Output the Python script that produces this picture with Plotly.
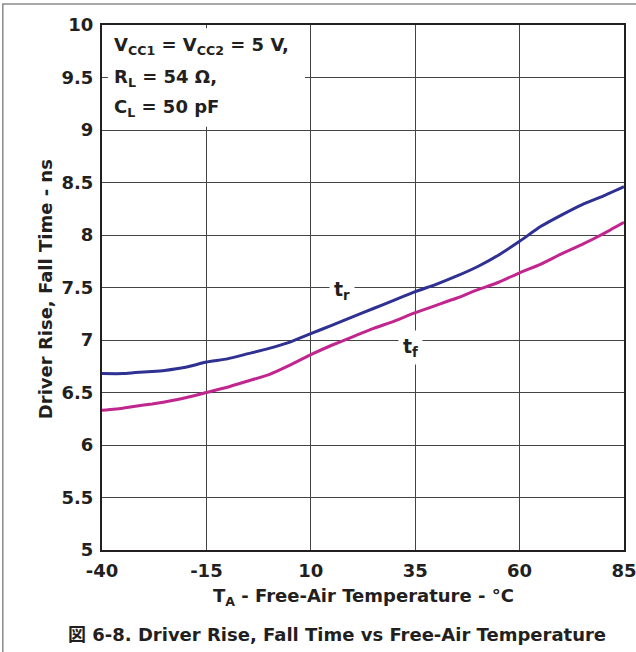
import plotly.graph_objects as go

temp = [-40, -35, -32, -28, -25, -20, -15, -10, -5, 0, 5, 10, 15, 20, 25, 30, 35, 40, 45, 50, 55, 60, 65, 70, 75, 80, 85]
rise = [6.68, 6.68, 6.69, 6.70, 6.71, 6.74, 6.79, 6.82, 6.87, 6.92, 6.98, 7.06, 7.14, 7.22, 7.30, 7.38, 7.46, 7.53, 7.61, 7.70, 7.81, 7.94, 8.08, 8.19, 8.29, 8.37, 8.46]
fall = [6.33, 6.35, 6.37, 6.39, 6.41, 6.45, 6.50, 6.55, 6.61, 6.67, 6.76, 6.86, 6.95, 7.03, 7.11, 7.18, 7.26, 7.33, 7.40, 7.48, 7.55, 7.64, 7.72, 7.82, 7.91, 8.01, 8.12]

x_ticks = [-40, -15, 10, 35, 60, 85]
y_ticks = [5, 5.5, 6, 6.5, 7, 7.5, 8, 8.5, 9, 9.5, 10]

FONT = "DejaVu Sans, Noto Sans CJK JP"
INK = "#231f20"
FS = 18

fig = go.Figure()
fig.add_trace(go.Scatter(x=temp, y=rise, mode="lines",
                         line=dict(color="#2e3192", width=3, shape="spline", smoothing=0.4)))
fig.add_trace(go.Scatter(x=temp, y=fall, mode="lines",
                         line=dict(color="#c1268f", width=3, shape="spline", smoothing=0.4)))

fig.update_layout(
    width=636, height=652,
    margin=dict(l=102, r=12, t=25, b=102),
    paper_bgcolor="white", plot_bgcolor="white",
    showlegend=False,
    font=dict(family=FONT, size=FS, color=INK),
)
fig.update_xaxes(
    range=[-40, 85], tickvals=x_ticks, ticktext=["<b>%d</b>" % v for v in x_ticks],
    showgrid=True, gridcolor="#444444", gridwidth=1,
    showline=True, linecolor=INK, linewidth=2, mirror=True, zeroline=False,
    ticks="", automargin=False, ticklabelstandoff=3, ticklabeloverflow="allow",
    tickfont=dict(family=FONT, size=FS, color=INK),
)
fig.update_yaxes(
    range=[5, 10], tickvals=y_ticks, ticktext=["<b>%g</b>" % v for v in y_ticks],
    showgrid=True, gridcolor="#444444", gridwidth=1,
    showline=True, linecolor=INK, linewidth=2, mirror=True, zeroline=False,
    ticks="", automargin=False, ticklabelstandoff=3, ticklabeloverflow="allow",
    tickfont=dict(family=FONT, size=FS, color=INK),
)

# axis titles
fig.add_annotation(x=0.5, y=-0.09, xref="paper", yref="paper", xanchor="center", yanchor="middle",
                   text="<b>T<sub>A</sub> - Free-Air Temperature - °C</b>", showarrow=False,
                   font=dict(family=FONT, size=FS, color=INK))
fig.add_annotation(x=-0.109, y=0.497, xref="paper", yref="paper", xanchor="center", yanchor="middle",
                   textangle=-90, text="<b>Driver Rise, Fall Time - ns</b>", showarrow=False,
                   font=dict(family=FONT, size=FS, color=INK))

# conditions box
fig.add_shape(type="rect", x0=-38.6, x1=8.6, y0=9.03, y1=9.97, fillcolor="white",
              line=dict(width=0), layer="above")
cond = ["<b>V<sub>CC1</sub> = V<sub>CC2</sub> = 5 V,</b>", "<b>R<sub>L</sub> = 54 Ω,</b>", "<b>C<sub>L</sub> = 50 pF</b>"]
cond_y = [9.80, 9.50, 9.21]
for t, yy in zip(cond, cond_y):
    fig.add_annotation(x=-37.6, y=yy, xanchor="left", yanchor="middle", text=t, showarrow=False,
                       font=dict(family=FONT, size=FS, color=INK))

fig.add_annotation(x=17.5, y=7.47, text="<b>t<sub>r</sub></b>", showarrow=False, bgcolor="white",
                   borderpad=4, font=dict(family=FONT, size=FS + 1, color=INK))
fig.add_annotation(x=33.8, y=6.93, text="<b>t<sub>f</sub></b>", showarrow=False, bgcolor="white",
                   borderpad=4, font=dict(family=FONT, size=FS + 1, color=INK))

# caption
fig.add_annotation(x=0.45, y=-0.16, xref="paper", yref="paper", yanchor="middle", xanchor="center",
                   text="<b>図 6-8. Driver Rise, Fall Time vs Free-Air Temperature</b>", showarrow=False,
                   font=dict(family=FONT, size=FS, color=INK))

# outer frame (top and left edges visible)
fig.add_shape(type="rect", xref="paper", yref="paper", x0=-0.19, x1=1.3, y0=-0.4, y1=1.04,
              line=dict(color="#8a8a8a", width=1.5), fillcolor="rgba(0,0,0,0)", layer="above")

fig.write_html("out.html", config={"displayModeBar": False},
               post_script="document.body.style.margin='0';")
